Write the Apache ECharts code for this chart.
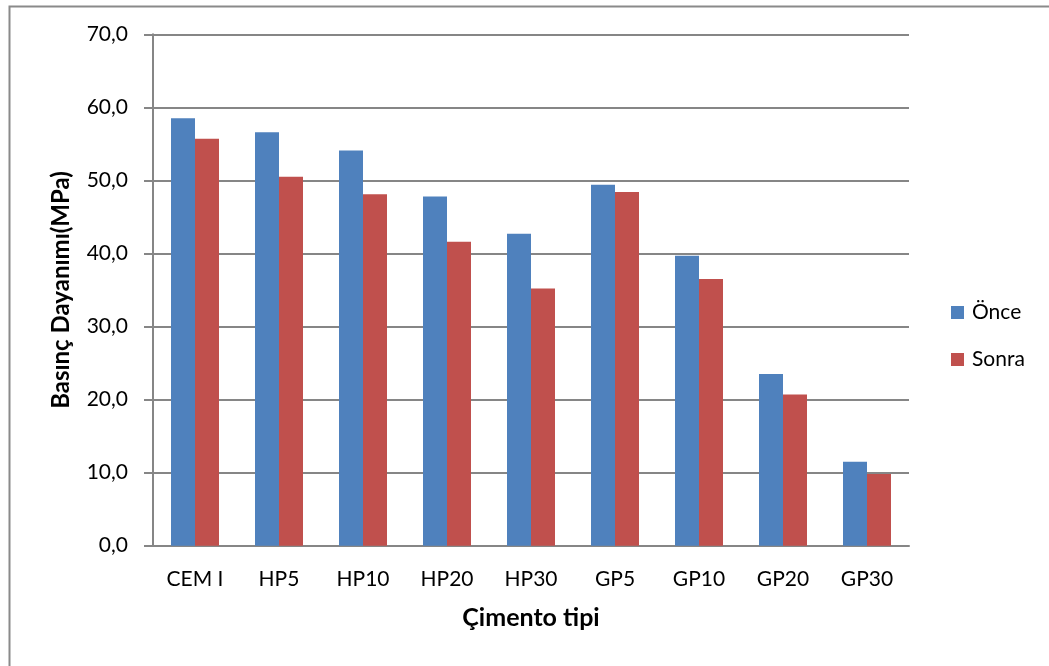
<!DOCTYPE html>
<html>
<head>
<meta charset="utf-8">
<script src="https://cdn.jsdelivr.net/npm/echarts@6/dist/echarts.min.js"></script>
<style>html,body{margin:0;padding:0;background:#fff}#c{width:1049px;height:666px}</style>
</head>
<body>
<div id="c"></div>
<script>
const categories = ['CEM I','HP5','HP10','HP20','HP30','GP5','GP10','GP20','GP30'];
const once = [58.5, 56.6, 54.1, 47.8, 42.7, 49.4, 39.7, 23.5, 11.5];
const sonra = [55.7, 50.5, 48.1, 41.6, 35.2, 48.4, 36.5, 20.7, 9.8];
const seriesNames = ['Önce','Sonra'];

const chart = echarts.init(document.getElementById('c'));
const font = 'Lato, "Liberation Sans", sans-serif';
chart.setOption({
  animation: false,
  backgroundColor: '#fff',
  textStyle: {fontFamily: font},
  graphic: [{
    type: 'rect', left: 7, top: 4,
    shape: {x: 0, y: 0, width: 1100, height: 700},
    style: {fill: 'none', stroke: '#8a8a8a', lineWidth: 2},
    silent: true, z: -10
  }],
  grid: {left: 153, right: 140, top: 34.3, bottom: 120.3, containLabel: false},
  legend: {
    orient: 'vertical', left: 951, top: 302, padding: 0,
    itemWidth: 13, itemHeight: 13, itemGap: 26, icon: 'rect',
    textStyle: {fontSize: 21, color: '#000', fontFamily: font, padding: [0, 0, 0, 3]},
    data: seriesNames
  },
  xAxis: {
    type: 'category', data: categories,
    name: 'Çimento tipi', nameLocation: 'middle', nameGap: 60,
    nameTextStyle: {fontSize: 25, fontWeight: 'bold', color: '#000', fontFamily: font},
    axisLine: {lineStyle: {color: '#868686', width: 2}},
    axisTick: {show: false},
    axisLabel: {fontSize: 21, color: '#000', margin: 23, fontFamily: font},
    splitLine: {show: false}
  },
  yAxis: {
    type: 'value', min: 0, max: 70, interval: 10,
    name: 'Basınç Dayanımı(MPa)', nameLocation: 'middle', nameGap: 80,
    nameTextStyle: {fontSize: 24, fontWeight: 'bold', color: '#000', fontFamily: font},
    axisLine: {show: true, lineStyle: {color: '#868686', width: 2}},
    axisTick: {show: true, length: 9, lineStyle: {color: '#868686', width: 2}},
    axisLabel: {fontSize: 21, color: '#000', margin: 25, fontFamily: font,
      formatter: v => v.toFixed(1).replace('.', ',')},
    splitLine: {lineStyle: {color: '#868686', width: 2}}
  },
  series: [
    {name: seriesNames[0], type: 'bar', data: once, barWidth: 24, barGap: '0%',
     itemStyle: {color: '#4F81BD'}},
    {name: seriesNames[1], type: 'bar', data: sonra, barWidth: 24, barGap: '0%',
     itemStyle: {color: '#C0504D'}}
  ]
});
</script>
</body>
</html>
